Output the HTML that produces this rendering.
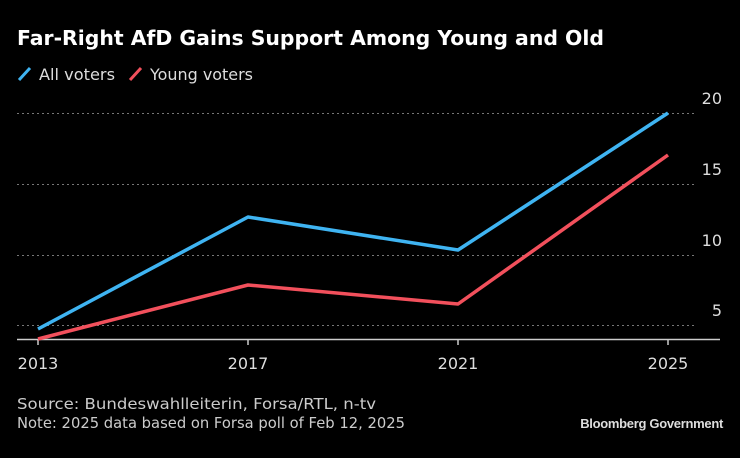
<!DOCTYPE html>
<html><head><style>
body{margin:0;background:#000;width:740px;height:454px;overflow:hidden;font-family:"DejaVu Sans",sans-serif}
</style></head><body>
<svg width="740" height="454" xmlns="http://www.w3.org/2000/svg" font-family="DejaVu Sans, sans-serif">
<rect width="740" height="454" fill="#000"/>
<text x="17" y="45" fill="#fff" font-size="20" font-weight="bold" textLength="587" lengthAdjust="spacingAndGlyphs">Far-Right AfD Gains Support Among Young and Old</text>
<line x1="19" y1="80" x2="30" y2="68" stroke="#3fb4f2" stroke-width="3"/>
<text x="39" y="80" fill="#ddd" font-size="16" textLength="76" lengthAdjust="spacingAndGlyphs">All voters</text>
<line x1="130" y1="80" x2="141" y2="68" stroke="#f2505c" stroke-width="3"/>
<text x="150" y="80" fill="#ddd" font-size="16" textLength="103" lengthAdjust="spacingAndGlyphs">Young voters</text>
<g stroke="#777" stroke-width="1" stroke-dasharray="2,3">
<line x1="17" y1="113.5" x2="697" y2="113.5"/>
<line x1="17" y1="184.5" x2="697" y2="184.5"/>
<line x1="17" y1="255.5" x2="697" y2="255.5"/>
<line x1="17" y1="325.5" x2="697" y2="325.5"/>
</g>
<g fill="#ddd" font-size="16" text-anchor="end">
<text x="722" y="104">20</text>
<text x="722" y="175">15</text>
<text x="722" y="246">10</text>
<text x="722" y="316">5</text>
</g>
<line x1="17" y1="339.5" x2="720" y2="339.5" stroke="#ccc" stroke-width="1.5"/>
<g stroke="#ccc" stroke-width="1.5">
<line x1="38" y1="340" x2="38" y2="345"/>
<line x1="248" y1="340" x2="248" y2="345"/>
<line x1="458" y1="340" x2="458" y2="345"/>
<line x1="668" y1="340" x2="668" y2="345"/>
</g>
<g fill="#ddd" font-size="16" text-anchor="middle">
<text x="38" y="369">2013</text>
<text x="248" y="369">2017</text>
<text x="458" y="369">2021</text>
<text x="668" y="369">2025</text>
</g>
<polyline points="38,329 248,217 458,250 668,113" fill="none" stroke="#3fb4f2" stroke-width="3.5" stroke-linejoin="round"/>
<polyline points="38,339 248,285 458,304 668,155" fill="none" stroke="#f2505c" stroke-width="3.5" stroke-linejoin="round"/>
<text x="17" y="409" fill="#ccc" font-size="15" textLength="359" lengthAdjust="spacingAndGlyphs">Source: Bundeswahlleiterin, Forsa/RTL, n-tv</text>
<text x="17" y="428" fill="#ccc" font-size="15" textLength="388" lengthAdjust="spacingAndGlyphs">Note: 2025 data based on Forsa poll of Feb 12, 2025</text>
<text x="723" y="428" fill="#ddd" font-size="13" font-weight="bold" text-anchor="end" font-family="Liberation Sans, sans-serif" letter-spacing="-0.3">Bloomberg Government</text>
</svg>
</body></html>
